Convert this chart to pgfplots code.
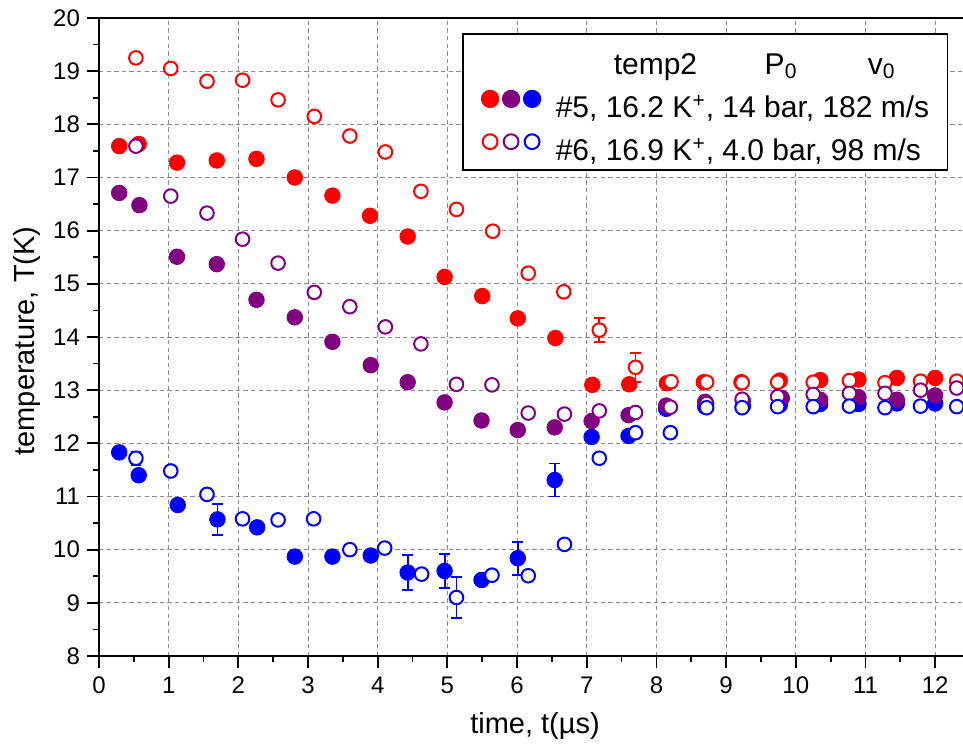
\documentclass[border=0pt]{standalone}
\usepackage{fontspec}
\setmainfont{Liberation Sans}
\usepackage{pgfplots}
\pgfplotsset{compat=1.18}
\usepackage{pgfplotstable}
\definecolor{cred}{RGB}{255,0,0}
\definecolor{cpur}{RGB}{128,0,128}
\definecolor{cblue}{RGB}{0,0,255}
\definecolor{cgrid}{RGB}{140,140,140}

% #5 filled
\pgfplotstableread{
x y
0.29 17.59
0.57 17.63
1.12 17.28
1.69 17.32
2.26 17.35
2.81 17.00
3.35 16.66
3.89 16.28
4.43 15.89
4.96 15.13
5.50 14.77
6.01 14.35
6.55 13.98
7.08 13.10
7.61 13.11
8.15 13.13
8.68 13.15
9.22 13.15
9.77 13.18
10.35 13.19
10.90 13.20
11.45 13.23
12.00 13.23
}\redF
\pgfplotstableread{
x y
0.29 16.71
0.58 16.48
1.12 15.51
1.69 15.37
2.26 14.70
2.81 14.37
3.35 13.91
3.90 13.47
4.43 13.15
4.96 12.77
5.49 12.43
6.01 12.25
6.54 12.30
7.07 12.42
7.60 12.53
8.14 12.71
8.70 12.78
9.24 12.80
9.80 12.85
10.35 12.82
10.90 12.87
11.45 12.82
12.00 12.90
}\purF
\pgfplotstableread{
x y e
0.29 11.83 0
0.57 11.40 0
1.13 10.84 0
1.70 10.57 0.29
2.27 10.42 0
2.81 9.87 0
3.35 9.87 0
3.90 9.89 0
4.43 9.57 0.33
4.96 9.60 0.32
5.49 9.43 0
6.01 9.84 0.31
6.54 11.31 0.31
7.07 12.12 0
7.60 12.14 0
8.14 12.65 0
8.70 12.69 0
9.24 12.70 0
9.77 12.72 0
10.35 12.74 0
10.90 12.74 0
11.45 12.75 0
12.00 12.75 0
}\blueF
% #6 open
\pgfplotstableread{
x y e
0.53 19.25 0
1.03 19.05 0
1.55 18.81 0
2.06 18.83 0
2.57 18.46 0
3.09 18.15 0
3.60 17.78 0
4.11 17.48 0
4.62 16.74 0
5.13 16.40 0
5.65 15.99 0
6.16 15.20 0
6.67 14.85 0
7.18 14.13 0.22
7.70 13.43 0.27
8.21 13.16 0
8.72 13.15 0
9.23 13.14 0
9.74 13.15 0
10.25 13.15 0
10.77 13.18 0
11.28 13.14 0
11.79 13.17 0
12.31 13.17 0
}\redO
\pgfplotstableread{
x y
0.53 17.59
1.03 16.65
1.55 16.33
2.06 15.84
2.57 15.39
3.09 14.84
3.60 14.57
4.11 14.19
4.62 13.87
5.13 13.11
5.64 13.10
6.16 12.57
6.68 12.55
7.18 12.61
7.70 12.58
8.20 12.68
8.72 12.75
9.23 12.83
9.74 12.88
10.25 12.92
10.77 12.94
11.28 12.94
11.79 13.00
12.31 13.04
}\purO
\pgfplotstableread{
x y e
0.53 11.72 0.12
1.03 11.48 0
1.55 11.04 0
2.06 10.58 0
2.57 10.56 0
3.08 10.58 0
3.60 10.00 0
4.10 10.03 0
4.63 9.54 0
5.13 9.10 0.39
5.64 9.52 0
6.16 9.51 0
6.68 10.10 0
7.18 11.72 0
7.70 12.20 0
8.20 12.20 0
8.72 12.67 0
9.23 12.67 0
9.74 12.69 0
10.25 12.69 0
10.77 12.70 0
11.28 12.67 0
11.79 12.70 0
12.31 12.69 0
}\blueO

\begin{document}
\begin{tikzpicture}
\begin{axis}[
  name=ax,
  scale only axis,
  width=432pt, height=319pt,
  xmin=0, xmax=12.4, ymin=8, ymax=20,
  axis x line*=box, axis y line*=left,
  axis line style={line width=0.9pt, black, -},
  xtick={0,1,...,12}, ytick={8,9,...,20},
  minor x tick num=1, minor y tick num=1,
  xtick pos=left, ytick pos=left,
  tick align=outside,
  major tick length=6pt, minor tick length=3pt,
  tick style={line width=0.9pt, black},
  grid=major,
  major grid style={cgrid, line width=0.5pt, dash pattern=on 2.2pt off 1.6pt},
  /pgf/number format/assume math mode=true,
  ticklabel style={font=\fontsize{12}{14}\selectfont},
  xticklabel style={yshift=-1pt},
  xlabel={time, t(µs)},
  ylabel={temperature, T(K)},
  every axis x label/.style={at={(axis description cs:0.5,0)}, anchor=base, yshift=-38.5pt, xshift=2pt, font=\fontsize{14.5}{17}\selectfont},
  every axis y label/.style={at={(axis description cs:0,0.5)}, anchor=center, xshift=-36pt, yshift=-2pt, rotate=90, font=\fontsize{14.5}{17}\selectfont},
  legend style={at={(rel axis cs:1,1)}, anchor=north east, xshift=-7.5pt, yshift=-7.5pt,
    draw=black, line width=0.75pt, fill=white,
    font=\fontsize{15}{18}\selectfont,
    inner xsep=9pt, inner ysep=3.3pt, row sep=6.3pt, column sep=7.25pt,
    nodes={inner sep=0pt}},
  legend cell align=left,
]
\addlegendimage{empty legend}
\addlegendentry{\rule[-7.2pt]{0pt}{24.1pt}\rlap{\hspace{29pt}temp2}\rlap{\hspace{104.5pt}P\textsubscript{0}}\hspace{156pt}v\textsubscript{0}}
\addlegendimage{legend image code/.code={
  \fill[cred] (0pt,4.5pt) circle[radius=4.2pt];
  \fill[cpur] (10.5pt,4.5pt) circle[radius=4.2pt];
  \fill[cblue] (21pt,4.5pt) circle[radius=4.2pt];}}
\addlegendentry{\#5, 16.2 K\textsuperscript{+}, 14 bar, 182 m/s}
\addlegendimage{legend image code/.code={
  \draw[cred, line width=1pt, fill=white] (0pt,4.5pt) circle[radius=3.7pt];
  \draw[cpur, line width=1pt, fill=white] (10.5pt,4.5pt) circle[radius=3.7pt];
  \draw[cblue, line width=1pt, fill=white] (21pt,4.5pt) circle[radius=3.7pt];}}
\addlegendentry{\#6, 16.9 K\textsuperscript{+}, 4.0 bar, 98 m/s}

% filled series
\addplot[forget plot, only marks, mark=*, mark size=3.9pt, cblue, mark options={draw=none, fill=cblue},
  error bars/.cd, y dir=both, y explicit, error mark options={rotate=90, mark size=2.7pt, line width=0.9pt, cblue}, error bar style={line width=0.9pt, cblue}]
  table[x=x, y=y, y error=e] {\blueF};
\addplot[forget plot, only marks, mark=*, mark size=3.9pt, cpur, mark options={draw=none, fill=cpur}]
  table[x=x, y=y] {\purF};
\addplot[forget plot, only marks, mark=*, mark size=3.9pt, cred, mark options={draw=none, fill=cred}]
  table[x=x, y=y] {\redF};
% open series
\addplot[forget plot, only marks, mark=*, mark size=3.4pt, cred, mark options={draw=cred, fill=white, line width=1pt},
  error bars/.cd, y dir=both, y explicit, error mark options={rotate=90, mark size=2.7pt, line width=0.9pt, cred}, error bar style={line width=0.9pt, cred}]
  table[x=x, y=y, y error=e] {\redO};
\addplot[forget plot, only marks, mark=*, mark size=3.4pt, cpur, mark options={draw=cpur, fill=white, line width=1pt}]
  table[x=x, y=y] {\purO};
\addplot[forget plot, only marks, mark=*, mark size=3.4pt, cblue, mark options={draw=cblue, fill=white, line width=1pt},
  error bars/.cd, y dir=both, y explicit, error mark options={rotate=90, mark size=2.7pt, line width=0.9pt, cblue}, error bar style={line width=0.9pt, cblue}]
  table[x=x, y=y, y error=e] {\blueO};
\end{axis}
\pgfresetboundingbox
\path ([xshift=-49.5pt,yshift=-45pt]ax.south west) rectangle ([yshift=9pt]ax.north east);
\end{tikzpicture}
\end{document}
